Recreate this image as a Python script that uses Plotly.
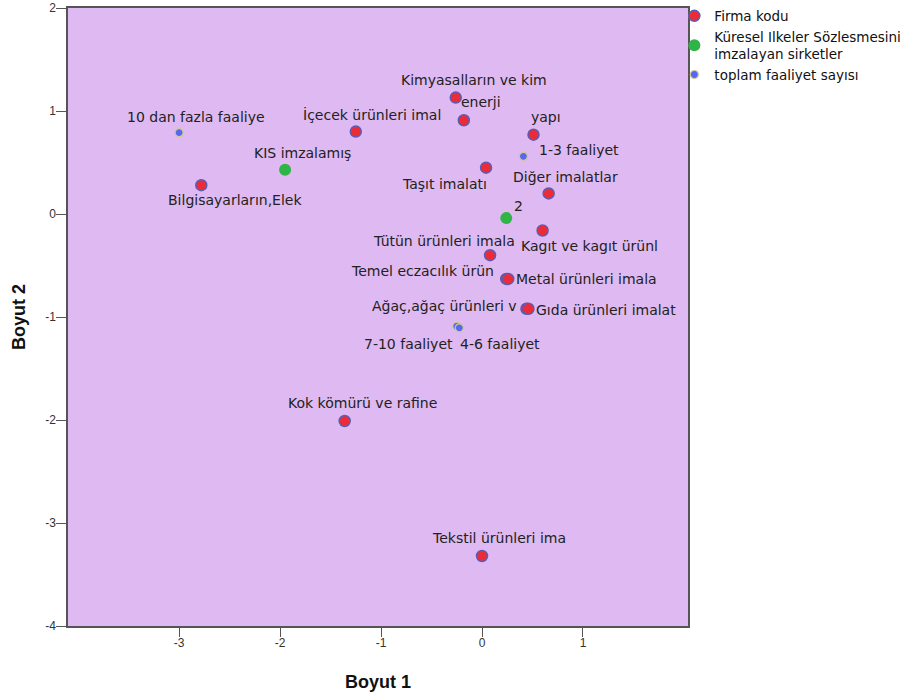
import plotly.graph_objects as go

# ---- data ----
firma_labels = ["Kimyasalların ve kim", "enerji", "İçecek ürünleri imal", "yapı",
                "Taşıt imalatı", "Diğer imalatlar", "Bilgisayarların,Elek",
                "Kagıt ve kagıt ürünl", "Tütün ürünleri imala", "Temel eczacılık ürün",
                "Metal ürünleri imala", "Ağaç,ağaç ürünleri v", "Gıda ürünleri imalat",
                "Kok kömürü ve rafine", "Tekstil ürünleri ima"]
firma_x = [-0.26, -0.18, -1.25, 0.51, 0.04, 0.66, -2.78, 0.60, 0.08, 0.24, 0.26, 0.44, 0.46, -1.36, 0.00]
firma_y = [1.13, 0.91, 0.80, 0.77, 0.45, 0.20, 0.28, -0.16, -0.40, -0.63, -0.63, -0.92, -0.92, -2.01, -3.32]

kuresel_labels = ["KIS imzalamış", "2"]
kuresel_x = [-1.95, 0.24]
kuresel_y = [0.43, -0.04]

faaliyet_labels = ["10 dan fazla faaliye", "1-3 faaliyet", "7-10 faaliyet", "4-6 faaliyet"]
faaliyet_x = [-3.00, 0.41, -0.25, -0.225]
faaliyet_y = [0.79, 0.56, -1.09, -1.105]

x_ticks = [-3, -2, -1, 0, 1]
x_ticktext = ["-3", "-2", "-1", "0", "1"]
y_ticks = [-4, -3, -2, -1, 0, 1, 2]
y_ticktext = ["-4", "-3", "-2", "-1", "0", "1", "2"]

# ---- label offsets (pixels): (xshift, yshift, xanchor) ----
firma_off = [(18, 18, "center"), (17, 18, "center"), (16, 17, "center"), (12, 18, "center"),
             (3, -16, "right"), (17, 16, "center"), (34, -15, "center"),
             (-24, -16, "left"), (-46, 14, "center"), (-84, 8, "center"),
             (6, 0, "left"), (-82, 3, "center"), (6, -1, "left"),
             (18, 18, "center"), (17, 18, "center")]
kuresel_off = [(17, 17, "center"), (12, 12, "center")]
faaliyet_off = [(17, 16, "center"), (14, 6, "left"), (-48, -18, "center"), (41, -16, "center")]

LABEL_FONT = "DejaVu Sans, Arial"

fig = go.Figure()
fig.add_trace(go.Scatter(x=firma_x, y=firma_y, mode="markers", name="Firma kodu",
                         marker=dict(size=11, color="#ec2b36", line=dict(color="#5c5cb4", width=1.5))))
fig.add_trace(go.Scatter(x=kuresel_x, y=kuresel_y, mode="markers",
                         name="Küresel Ilkeler Sözlesmesini<br>imzalayan sirketler",
                         marker=dict(size=12, color="#2fb446", line=dict(color="#2fb446", width=0))))
fig.add_trace(go.Scatter(x=faaliyet_x, y=faaliyet_y, mode="markers", name="toplam faaliyet sayısı",
                         marker=dict(size=8, color="#5468f4", line=dict(color="#d8c890", width=1.2))))

annotations = []
for labels, xs, ys, offs in [(firma_labels, firma_x, firma_y, firma_off),
                             (kuresel_labels, kuresel_x, kuresel_y, kuresel_off),
                             (faaliyet_labels, faaliyet_x, faaliyet_y, faaliyet_off)]:
    for t, x, y, (dx, dy, anc) in zip(labels, xs, ys, offs):
        annotations.append(dict(x=x, y=y, text=t, showarrow=False, xshift=dx, yshift=dy,
                                xanchor=anc, yanchor="middle",
                                font=dict(family=LABEL_FONT, size=14, color="#222")))

fig.update_layout(
    width=914, height=696,
    margin=dict(l=68, r=226, t=8, b=70, autoexpand=False),
    paper_bgcolor="white", plot_bgcolor="#dfb9f1",
    annotations=annotations,
    showlegend=True,
    legend=dict(x=0.978, y=1.012, xanchor="left", yanchor="top", bgcolor="rgba(0,0,0,0)",
                font=dict(family=LABEL_FONT, size=13.5, color="#111"),
                itemwidth=30, tracegroupgap=0),
    font=dict(family="Arial, Liberation Sans", color="#222"),
)
fig.update_xaxes(range=[-4.1, 2.04], tickvals=x_ticks, ticktext=x_ticktext,
                 showgrid=False, zeroline=False,
                 showline=True, linecolor="#555", linewidth=1.5, mirror=True,
                 ticks="outside", ticklen=9, tickcolor="#555", ticklabelstandoff=-4,
                 tickfont=dict(size=12, color="#333"),
                 title=dict(text="<b>Boyut 1</b>", font=dict(size=18, color="#111"), standoff=26))
fig.update_yaxes(range=[-4, 2], tickvals=y_ticks, ticktext=y_ticktext,
                 showgrid=False, zeroline=False,
                 showline=True, linecolor="#555", linewidth=1.5, mirror=True,
                 ticks="outside", ticklen=10, tickcolor="#555", ticklabelstandoff=-2,
                 tickfont=dict(size=12, color="#333"),
                 title=dict(text="<b>Boyut 2</b>", font=dict(size=18, color="#111"), standoff=15))

fig.write_html("out.html", config={"displayModeBar": False},
               post_script="document.body.style.margin='0';")
